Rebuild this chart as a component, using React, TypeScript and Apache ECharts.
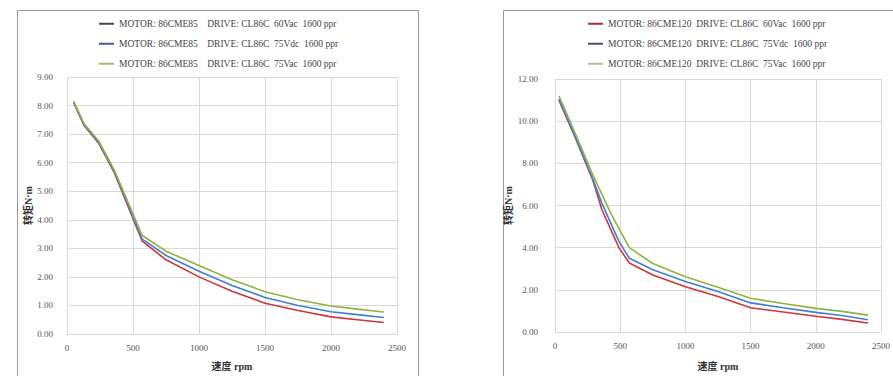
import React, { useEffect, useRef } from "react";
import * as echarts from "echarts";

const S = "\u00a0";
const leftNames = [
  `MOTOR: 86CME85${S}${S}${S}${S}DRIVE: CL86C${S}${S}60Vac${S}${S}1600 ppr`,
  `MOTOR: 86CME85${S}${S}${S}${S}DRIVE: CL86C${S}${S}75Vdc${S}${S}1600 ppr`,
  `MOTOR: 86CME85${S}${S}${S}${S}DRIVE: CL86C${S}${S}75Vac${S}${S}1600 ppr`,
];
const rightNames = [
  `MOTOR: 86CME120${S}${S}DRIVE: CL86C${S}${S}60Vac${S}${S}1600 ppr`,
  `MOTOR: 86CME120${S}${S}DRIVE: CL86C${S}${S}75Vdc${S}${S}1600 ppr`,
  `MOTOR: 86CME120${S}${S}DRIVE: CL86C${S}${S}75Vac${S}${S}1600 ppr`,
];

// Left chart (86CME85): [rpm, N·m]
const left60Vac = [[50, 8.1], [130, 7.3], [240, 6.68], [360, 5.63], [570, 3.25], [750, 2.6], [1000, 2.0], [1250, 1.5], [1500, 1.08], [1750, 0.82], [2000, 0.6], [2200, 0.5], [2400, 0.4]];
const left75Vdc = [[50, 8.12], [130, 7.33], [240, 6.72], [360, 5.68], [570, 3.32], [750, 2.75], [1000, 2.2], [1250, 1.7], [1500, 1.28], [1750, 1.0], [2000, 0.78], [2200, 0.68], [2400, 0.58]];
const left75Vac = [[50, 8.15], [130, 7.36], [240, 6.76], [360, 5.72], [570, 3.45], [750, 2.9], [1000, 2.4], [1250, 1.9], [1500, 1.48], [1750, 1.2], [2000, 0.98], [2200, 0.87], [2400, 0.77]];

// Right chart (86CME120): [rpm, N·m]
const right60Vac = [[30, 11.0], [150, 9.3], [290, 7.2], [360, 5.8], [490, 4.0], [570, 3.27], [750, 2.7], [1000, 2.15], [1250, 1.68], [1500, 1.15], [1750, 0.95], [2000, 0.75], [2200, 0.6], [2400, 0.43]];
const right75Vdc = [[30, 11.05], [150, 9.35], [290, 7.25], [360, 6.1], [490, 4.3], [570, 3.5], [750, 2.95], [1000, 2.4], [1250, 1.92], [1500, 1.38], [1750, 1.15], [2000, 0.93], [2200, 0.78], [2400, 0.58]];
const right75Vac = [[30, 11.2], [150, 9.5], [290, 7.45], [430, 5.6], [570, 4.0], [750, 3.25], [1000, 2.62], [1250, 2.12], [1500, 1.6], [1750, 1.35], [2000, 1.12], [2200, 0.98], [2400, 0.8]];

const xName = "速度 rpm";
const yName = "转矩N·m";

const seriesColors = ["#d2343a", "#3f7fd6", "#8fb43e"];
const leftLegendColors = ["#4a4a4a", "#4d5a8c", "#a9b86a"];
const rightLegendColors = ["#b02a3a", "#4a5068", "#b7be8e"];

const FONT = "Liberation Serif, Times New Roman, Noto Sans CJK SC, serif";

export default function App() {
  const ref = useRef<HTMLDivElement>(null);
  useEffect(() => {
    if (!ref.current) return;
    const chart = echarts.init(ref.current, null, { renderer: "svg" });
    const axisLabel = { color: "#555", fontSize: 9, fontFamily: FONT };
    const splitLine = { show: true, lineStyle: { color: "#d9d9d9", width: 1 } };
    const axisLine = { show: true, lineStyle: { color: "#d9d9d9" } };
    const nameStyle = { color: "#333", fontSize: 10, fontWeight: "bold" as const, fontFamily: FONT };
    const mkX = (gridIndex: number, gap: number) => ({
      type: "value", gridIndex, min: 0, max: 2500, interval: 500,
      axisLine, axisTick: { show: false }, splitLine,
      axisLabel: { ...axisLabel, margin: 9, formatter: (v: number) => String(v) },
      name: xName, nameLocation: "middle", nameGap: gap, nameTextStyle: nameStyle,
    });
    const mkY = (gridIndex: number, max: number, interval: number, margin: number, gap: number) => ({
      type: "value", gridIndex, min: 0, max, interval,
      axisLine: { show: false }, axisTick: { show: false }, splitLine,
      axisLabel: { ...axisLabel, margin, formatter: (v: number) => v.toFixed(2) },
      name: yName, nameLocation: "middle", nameGap: gap, nameTextStyle: nameStyle,
    });
    const line = (name: string, data: number[][], i: number, idx: number) => ({
      type: "line", name, data, xAxisIndex: idx, yAxisIndex: idx,
      showSymbol: false, smooth: false,
      lineStyle: { color: seriesColors[i], width: 1.6 },
      itemStyle: { color: seriesColors[i] },
    });
    const legendBase = {
      orient: "vertical", icon: "rect", itemWidth: 15, itemHeight: 2, itemGap: 10.5, padding: 0,
      textStyle: { color: "#444", fontSize: 9.5, fontFamily: FONT },
    };
    chart.setOption({
      animation: false,
      backgroundColor: "#fff",
      graphic: [
        { type: "rect", shape: { x: 17.5, y: 10.5, width: 401, height: 380 }, style: { fill: "none", stroke: "#9a9a9a", lineWidth: 1 } },
        { type: "rect", shape: { x: 503.5, y: 10.5, width: 420, height: 380 }, style: { fill: "none", stroke: "#9a9a9a", lineWidth: 1 } },
      ],
      legend: [
        { ...legendBase, left: 99, top: 19, data: leftNames.map((n, i) => ({ name: n, itemStyle: { color: leftLegendColors[i] } })) },
        { ...legendBase, left: 588, top: 19, data: rightNames.map((n, i) => ({ name: n, itemStyle: { color: rightLegendColors[i] } })) },
      ],
      grid: [
        { left: 67, right: 496, top: 77, bottom: 41 },
        { left: 555, right: 4, top: 79, bottom: 37 },
      ],
      xAxis: [mkX(0, 27), mkX(1, 29)],
      yAxis: [mkY(0, 9, 1, 14, 34), mkY(1, 12, 2, 17, 38)],
      series: [
        line(leftNames[0], left60Vac, 0, 0),
        line(leftNames[1], left75Vdc, 1, 0),
        line(leftNames[2], left75Vac, 2, 0),
        line(rightNames[0], right60Vac, 0, 1),
        line(rightNames[1], right75Vdc, 1, 1),
        line(rightNames[2], right75Vac, 2, 1),
      ],
    } as any);
    return () => chart.dispose();
  }, []);
  return <div ref={ref} style={{ width: 893, height: 376, position: "absolute", left: 0, top: 0 }} />;
}
